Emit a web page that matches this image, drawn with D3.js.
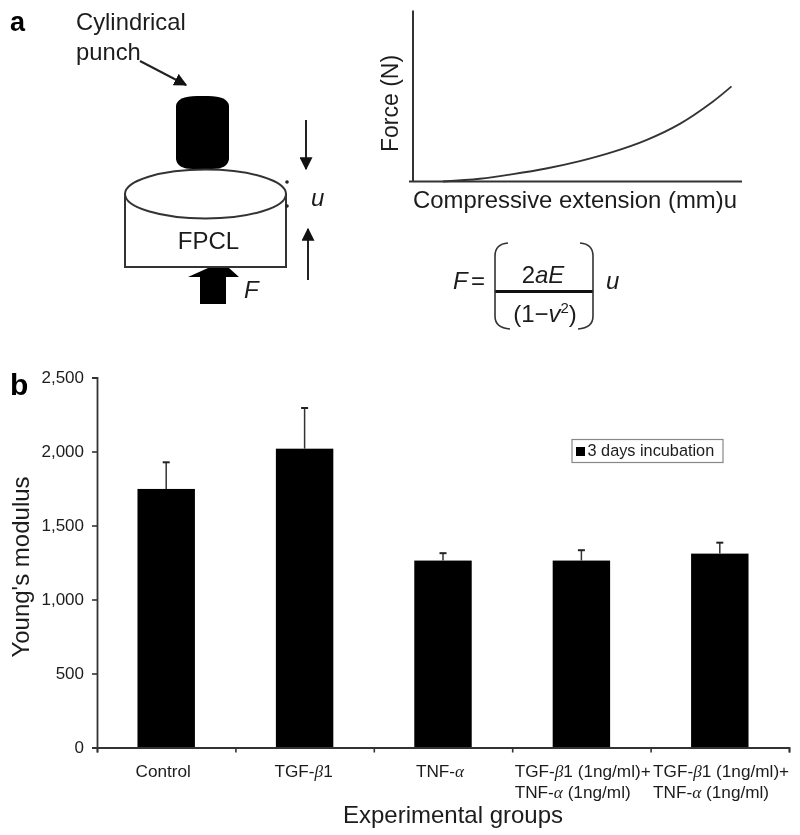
<!DOCTYPE html>
<html>
<head>
<meta charset="utf-8">
<script src="https://cdn.jsdelivr.net/npm/d3@7"></script>
<style>
  html, body { margin: 0; padding: 0; background: #fff; }
  svg { display: block; filter: blur(0.4px); }
  text { font-family: "Liberation Sans", Arial, sans-serif; fill: #1c1c1c; }
</style>
</head>
<body>
<div id="display"></div>
<script>
// panel b values
const groups = ['Control', 'TGF-b1', 'TNF-a', 'TGF-b1 + TNF-a (1)', 'TGF-b1 + TNF-a (2)'];
const modulus = [1747, 2019, 1263, 1263, 1310];
const errorTop = [1927, 2294, 1313, 1333, 1384];
const yTicks = [0, 500, 1000, 1500, 2000, 2500];
// label lines: each part is [text, isGreek]
const groupLabels = [
    [[['Control', false]]],
    [[['TGF-', false], ['β', true], ['1', false]]],
    [[['TNF-', false], ['α', true]]],
    [[['TGF-', false], ['β', true], ['1 (1ng/ml)+', false]], [['TNF-', false], ['α', true], [' (1ng/ml)', false]]],
    [[['TGF-', false], ['β', true], ['1 (1ng/ml)+', false]], [['TNF-', false], ['α', true], [' (1ng/ml)', false]]]
];
const labelShift = [-3, -1, -3, 0, 0];

// panel a curve, in percent of each axis
const extension = [9.1, 20.3, 30.4, 40.5, 50.7, 60.8, 70.9, 81.1, 91.2, 96.8];
const force = [0, 1.6, 4.3, 7.6, 11.9, 17.3, 24.2, 33.7, 46.8, 55.6];

const width = 800;
const height = 835;
const svg = d3.select('#display').append('svg')
    .attr('width', width)
    .attr('height', height)
    .attr('viewBox', [0, 0, width, height]);

svg.append('defs').append('marker')
    .attr('id', 'head')
    .attr('viewBox', '0 0 10 10')
    .attr('refX', 9)
    .attr('refY', 5)
    .attr('markerWidth', 13)
    .attr('markerHeight', 13)
    .attr('markerUnits', 'userSpaceOnUse')
    .attr('orient', 'auto')
    .append('path')
    .attr('d', 'M0,0L10,5L0,10Z')
    .attr('fill', '#111');

function label(str, x, y, size, opts) {
    const t = svg.append('text')
        .attr('x', x)
        .attr('y', y)
        .attr('font-size', size)
        .text(str);
    if (opts && opts.italic) t.attr('font-style', 'italic');
    if (opts && opts.bold) t.attr('font-weight', 'bold').style('fill', '#000');
    if (opts && opts.anchor) t.attr('text-anchor', opts.anchor);
    if (opts && opts.rotate) t.attr('transform', 'rotate(-90,' + x + ',' + y + ')');
    return t;
}

function arrow(x1, y1, x2, y2) {
    svg.append('line')
        .attr('x1', x1).attr('y1', y1).attr('x2', x2).attr('y2', y2)
        .attr('stroke', '#222')
        .attr('stroke-width', 2)
        .attr('marker-end', 'url(#head)');
}

// ---- panel a: schematic
label('a', 10, 30.5, 27, { bold: true });
label('Cylindrical', 76, 30, 23.8);
label('punch', 76, 60, 23.8);
arrow(140, 61, 186, 85);

svg.append('path')
    .attr('d', 'M176,106Q177,96 197,96L208,96Q228,96 229,106L229,159Q228,169 212,169L193,169Q177,169 176,159Z')
    .attr('fill', '#000');

svg.append('rect')
    .attr('x', 125).attr('y', 194)
    .attr('width', 161).attr('height', 73)
    .attr('fill', '#fff')
    .attr('stroke', '#333')
    .attr('stroke-width', 2);
svg.append('ellipse')
    .attr('cx', 205.5).attr('cy', 194)
    .attr('rx', 80.5).attr('ry', 24.5)
    .attr('fill', '#fff')
    .attr('stroke', '#333')
    .attr('stroke-width', 2);
svg.append('circle').attr('cx', 287).attr('cy', 182).attr('r', 1.8).attr('fill', '#222');
svg.append('circle').attr('cx', 287).attr('cy', 206).attr('r', 1.8).attr('fill', '#222');

label('FPCL', 208.5, 249, 24, { anchor: 'middle' });
label('u', 311, 206, 24, { italic: true });
label('F', 244, 298, 24, { italic: true });

arrow(306, 120, 306, 169);
arrow(308, 280, 308, 229);

svg.append('path')
    .attr('d', 'M208,268L229,268L239,277L226,277L226,304L200,304L200,277L188,277Z')
    .attr('fill', '#000');

// ---- panel a: force curve
const xForce = d3.scaleLinear().domain([0, 100]).range([413, 742]);
const yForce = d3.scaleLinear().domain([0, 100]).range([181.5, 10.5]);

svg.append('line')
    .attr('x1', xForce(0)).attr('x2', xForce(0))
    .attr('y1', yForce(0)).attr('y2', yForce(100))
    .attr('stroke', '#333').attr('stroke-width', 2);
svg.append('line')
    .attr('x1', xForce(0) - 4).attr('x2', xForce(100))
    .attr('y1', yForce(0)).attr('y2', yForce(0))
    .attr('stroke', '#333').attr('stroke-width', 2);

const forceLine = d3.line()
    .x(function (d, i) { return xForce(extension[i]); })
    .y(function (d) { return yForce(d); })
    .curve(d3.curveCatmullRom);
svg.append('path')
    .attr('d', forceLine(force))
    .attr('fill', 'none')
    .attr('stroke', '#333')
    .attr('stroke-width', 1.8);

label('Force (N)', 398, 152, 23, { rotate: true });
label('Compressive extension (mm)u', 413, 208, 23.9);

// ---- panel a: formula
label('F', 453, 289, 24, { italic: true });
label('=', 471, 289, 24);
const top2 = label('', 543, 283, 24, { anchor: 'middle' });
top2.append('tspan').text('2');
top2.append('tspan').attr('font-style', 'italic').text('aE');
svg.append('line')
    .attr('x1', 495).attr('x2', 593).attr('y1', 291.5).attr('y2', 291.5)
    .attr('stroke', '#111').attr('stroke-width', 3);
const bottom = label('', 545, 322, 24, { anchor: 'middle' });
bottom.append('tspan').text('(1−');
bottom.append('tspan').attr('font-style', 'italic').text('v');
bottom.append('tspan').attr('font-size', 15).attr('dy', -9).text('2');
bottom.append('tspan').attr('dy', 9).text(')');
label('u', 606, 289, 24, { italic: true });

svg.selectAll('.bracket')
    .data([
        'M508,243Q495,244 495,256L495,316Q495,328 510,329',
        'M580,243Q593,244 593,256L593,316Q593,328 578,329'
    ])
    .enter().append('path')
    .attr('class', 'bracket')
    .attr('d', function (d) { return d; })
    .attr('fill', 'none')
    .attr('stroke', '#333')
    .attr('stroke-width', 1.6);

// ---- panel b: bars
label('b', 10, 394.5, 30, { bold: true });

const plotLeft = 97;
const plotRight = 789;
const plotTop = 377.5;
const plotBottom = 747.5;

const x = d3.scaleBand()
    .domain(groups)
    .range([plotLeft, plotRight])
    .paddingInner(0.585)
    .paddingOuter(0.2925);
const xEdges = d3.scaleLinear().domain([0, groups.length]).range([plotLeft, plotRight]);
const y = d3.scaleLinear().domain([0, 2500]).range([plotBottom, plotTop]);

svg.selectAll('.bar')
    .data(groups)
    .enter().append('rect')
    .attr('class', 'bar')
    .attr('x', function (d) { return x(d); })
    .attr('width', x.bandwidth())
    .attr('y', function (d, i) { return y(modulus[i]); })
    .attr('height', function (d, i) { return y(0) - y(modulus[i]); })
    .attr('fill', '#000');

svg.selectAll('.err')
    .data(groups)
    .enter().append('line')
    .attr('class', 'err')
    .attr('x1', function (d) { return x(d) + x.bandwidth() / 2; })
    .attr('x2', function (d) { return x(d) + x.bandwidth() / 2; })
    .attr('y1', function (d, i) { return y(modulus[i]); })
    .attr('y2', function (d, i) { return y(errorTop[i]); })
    .attr('stroke', '#333')
    .attr('stroke-width', 1.5);
svg.selectAll('.cap')
    .data(groups)
    .enter().append('line')
    .attr('class', 'cap')
    .attr('x1', function (d) { return x(d) + x.bandwidth() / 2 - 3.5; })
    .attr('x2', function (d) { return x(d) + x.bandwidth() / 2 + 3.5; })
    .attr('y1', function (d, i) { return y(errorTop[i]); })
    .attr('y2', function (d, i) { return y(errorTop[i]); })
    .attr('stroke', '#222')
    .attr('stroke-width', 2);

const yAxis = svg.append('g')
    .attr('transform', 'translate(' + plotLeft + ',0)')
    .call(d3.axisLeft(y).tickValues(yTicks).tickFormat(d3.format(',')).tickSize(5).tickPadding(8));
yAxis.selectAll('text').attr('font-size', 17).attr('font-family', null);

const xAxis = svg.append('g')
    .attr('transform', 'translate(0,' + plotBottom + ')')
    .call(d3.axisBottom(xEdges).tickValues(d3.range(groups.length + 1)).tickFormat('').tickSize(5));

[yAxis, xAxis].forEach(function (a) {
    a.selectAll('path').attr('stroke', '#333').attr('stroke-width', 1.8);
    a.selectAll('line').attr('stroke', '#333').attr('stroke-width', 1.6);
});

// category labels: one-line ones centred, two-line ones left aligned on the tick
groupLabels.forEach(function (lines, i) {
    lines.forEach(function (parts, j) {
        const two = lines.length > 1;
        const t = svg.append('text')
            .attr('x', two ? xEdges(i) + 2.5 : x(groups[i]) + x.bandwidth() / 2 + labelShift[i])
            .attr('y', 777 + j * 20.5)
            .attr('font-size', 17.2)
            .attr('text-anchor', two ? 'start' : 'middle');
        parts.forEach(function (p) {
            const s = t.append('tspan').text(p[0]);
            if (p[1]) s.attr('font-style', 'italic').style('font-family', '"Liberation Serif", serif');
        });
    });
});

label("Young's modulus", 29, 567, 24, { anchor: 'middle', rotate: true });
label('Experimental groups', 453, 823, 24, { anchor: 'middle' });

// legend
svg.append('rect')
    .attr('x', 572).attr('y', 439.5)
    .attr('width', 151).attr('height', 23)
    .attr('fill', '#fff')
    .attr('stroke', '#888')
    .attr('stroke-width', 1.2);
svg.append('rect')
    .attr('x', 576).attr('y', 447)
    .attr('width', 9).attr('height', 9)
    .attr('fill', '#000');
label('3 days incubation', 587.5, 456, 16.3);
</script>
</body>
</html>
